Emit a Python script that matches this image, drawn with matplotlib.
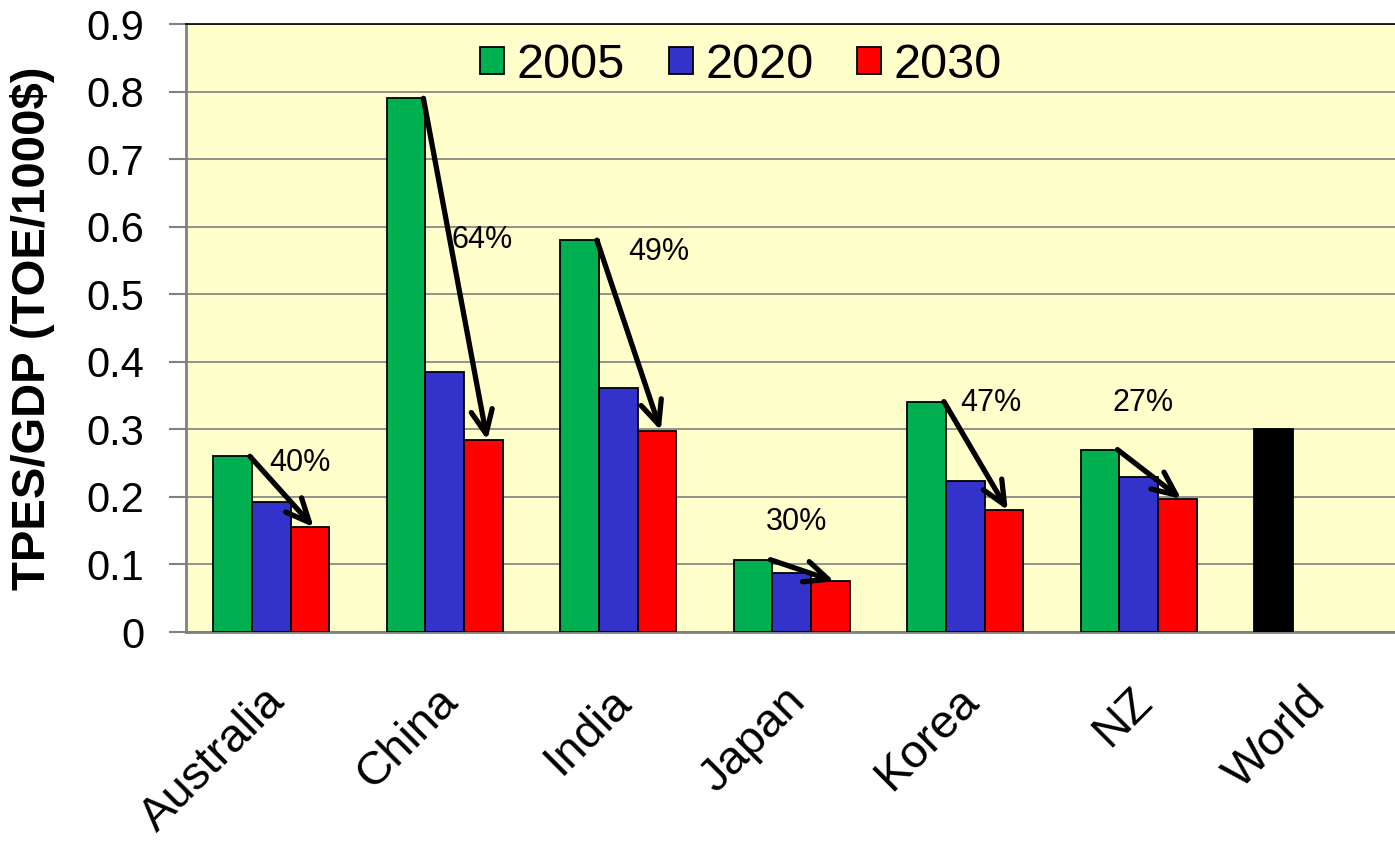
import matplotlib
matplotlib.use("Agg")
import matplotlib.pyplot as plt
import matplotlib.transforms as mtransforms
import numpy as np

plt.rcParams['font.family'] = ['Liberation Sans', 'DejaVu Sans']

categories = ["Australia", "China", "India", "Japan", "Korea", "NZ", "World"]
series_names = ["2005", "2020", "2030"]
v2005 = [0.260, 0.790, 0.580, 0.107, 0.341, 0.270]
v2020 = [0.193, 0.385, 0.361, 0.088, 0.224, 0.229]
v2030 = [0.155, 0.284, 0.298, 0.075, 0.180, 0.197]
world_value = 0.300
pct_labels = ["40%", "64%", "49%", "30%", "47%", "27%"]
yticks = [0, 0.1, 0.2, 0.3, 0.4, 0.5, 0.6, 0.7, 0.8, 0.9]
ytick_labels = ["0", "0.1", "0.2", "0.3", "0.4", "0.5", "0.6", "0.7", "0.8", "0.9"]

# layout (annotation label positions in data coords)
label_pos = [(0.166, 0.250), (1.215, 0.581), (2.235, 0.563),
             (3.025, 0.163), (4.149, 0.339), (5.025, 0.339)]

colors = ["#00B050", "#3333CC", "#FF0000"]

fig = plt.figure(figsize=(13.95, 8.41), dpi=100)
ax = fig.add_axes([186/1395, 1 - 632/841, 1 - 186/1395, (632 - 24)/841])
ax.set_facecolor("#FFFFCC")

w = 0.223
x = np.arange(len(v2005))
for k, (vals, c, name) in enumerate(zip([v2005, v2020, v2030], colors, series_names)):
    ax.bar(x + (k - 1) * w, vals, width=w, color=c, edgecolor="black",
           linewidth=1.3, label=name, zorder=3)
ax.bar([len(v2005) - w], [world_value], width=w, color="black",
       edgecolor="black", linewidth=1.3, zorder=3)

# arrows and percentages
for i in range(len(v2005)):
    start = (i - w * 0.55, v2005[i])
    end = (i + w * 1.1, v2030[i])
    ax.annotate("", xy=end, xytext=start,
                arrowprops=dict(arrowstyle="->,head_length=1.0,head_width=0.45",
                                lw=3.8, color="black", shrinkA=0, shrinkB=0,
                                mutation_scale=17),
                zorder=5)
    ax.text(label_pos[i][0], label_pos[i][1], pct_labels[i], fontsize=22,
            ha="center", va="center", zorder=6)

ax.set_xlim(-0.491, 6.477)
ax.set_ylim(0, 0.9)
ax.set_yticks(yticks)
ax.set_yticklabels(ytick_labels, fontsize=30)
ax.yaxis.grid(True, color="#808080", linewidth=1.2, zorder=0)
ax.set_axisbelow(True)
ax.tick_params(axis="y", direction="out", length=12, width=1.5, color="#808080", pad=18)

ax.set_xticks(np.arange(len(categories)))
ax.set_xticklabels(categories, fontsize=34, rotation=45, ha="right",
                   rotation_mode="anchor")
ax.tick_params(axis="x", length=0, pad=34)
offset = mtransforms.ScaledTranslation(-9 / 100, 0, fig.dpi_scale_trans)
for lab in ax.get_xticklabels():
    lab.set_transform(lab.get_transform() + offset)

ax.set_ylabel("TPES/GDP (TOE/1000$)", fontsize=34, fontweight="bold")
ax.yaxis.set_label_coords(-0.108, 0.5)

for s in ["left", "bottom"]:
    ax.spines[s].set_color("#808080")
    ax.spines[s].set_linewidth(2)
ax.spines["top"].set_color("black")
ax.spines["top"].set_linewidth(1.2)
ax.spines["right"].set_visible(False)

ax.legend(loc="center", bbox_to_anchor=(0.459, 0.932), ncol=3, frameon=False,
          fontsize=35, handlelength=0.5, handleheight=0.5, handletextpad=0.25,
          columnspacing=0.9, borderaxespad=0)

fig.savefig("out.png", dpi=100)
